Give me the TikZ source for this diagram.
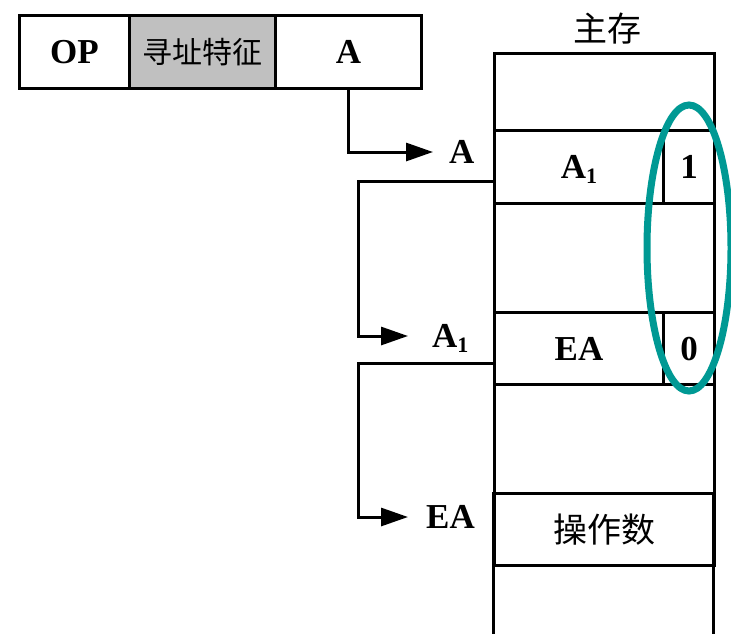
\documentclass[tikz,border=0pt]{standalone}
\usepackage{fontspec}
\setmainfont{Liberation Serif}
\newfontfamily\cjk{Noto Sans CJK SC}
\usetikzlibrary{arrows.meta,shapes.geometric}
\definecolor{cellgray}{RGB}{192,192,192}
\definecolor{hlteal}{RGB}{0,153,148}
\newcommand{\subone}{\raisebox{-5pt}{\fontsize{22}{24}\selectfont 1}}
\begin{document}
\begin{tikzpicture}[x=1pt,y=-1pt,
  box/.style={draw, line width=3pt, inner sep=0pt, anchor=north west},
  lat/.style={font=\fontsize{35}{40}\selectfont\bfseries, text height=23pt, text depth=0pt},
  han/.style={font=\fontsize{34}{38}\selectfont\cjk},
  hansmall/.style={font=\fontsize{30}{34}\selectfont\cjk},
  arr/.style={line width=3pt, -{Triangle[length=27pt,width=18pt]}},
  lbl/.style={lat, inner sep=0pt, anchor=west}]
\useasboundingbox (0,0) rectangle (731,633);
% memory frame below the last cell
\draw[line width=3pt] (493,492) -- (493,640);
\draw[line width=3pt] (713,492) -- (713,640);
% instruction
\node[box, minimum width=110pt, minimum height=73pt, lat] (op) at (18,14) {OP};
\node[box, fill=cellgray, minimum width=146pt, minimum height=73pt, hansmall] (mode) at (128,14) {寻址特征};
\node[box, minimum width=146pt, minimum height=73pt, lat] (opA) at (274,14) {A};
% memory
\node[han] (title) at (607,29) {主存};
\node[box, minimum width=220pt, minimum height=77pt] (m0) at (493,52) {};
\node[box, minimum width=169pt, minimum height=73pt, lat] (a1cell) at (493,129) {A\subone};
\node[box, minimum width=51pt, minimum height=73pt, lat] (f1) at (662,129) {1};
\node[box, minimum width=220pt, minimum height=109pt] (m2) at (493,202) {};
\node[box, minimum width=169pt, minimum height=72pt, lat] (eacell) at (493,311) {EA};
\node[box, minimum width=51pt, minimum height=72pt, lat] (f0) at (662,311) {0};
\node[box, minimum width=220pt, minimum height=109pt] (m4) at (493,383) {};
\node[box, minimum width=220pt, minimum height=72pt, han] (opd) at (493,492) {操作数};
% labels
\node[lbl] (lA) at (449,152) {A};
\node[lbl] (lA1) at (432,336) {A\subone};
\node[lbl] (lEA) at (426,517) {EA};
% arrows
\draw[arr, shorten >=16pt] (opA.south) |- (lA.west);
\draw[arr, shorten >=24pt] ([yshift=-14pt]a1cell.west) -- ++(-135,0) |- (lA1.west);
\draw[arr, shorten >=18pt] ([yshift=-15pt]eacell.west) -- ++(-135,0) |- (lEA.west);
% highlight
\node[ellipse, draw=hlteal, line width=7pt, minimum width=84pt, minimum height=286pt, inner sep=0pt] (hl) at (689,248) {};
\end{tikzpicture}
\end{document}
